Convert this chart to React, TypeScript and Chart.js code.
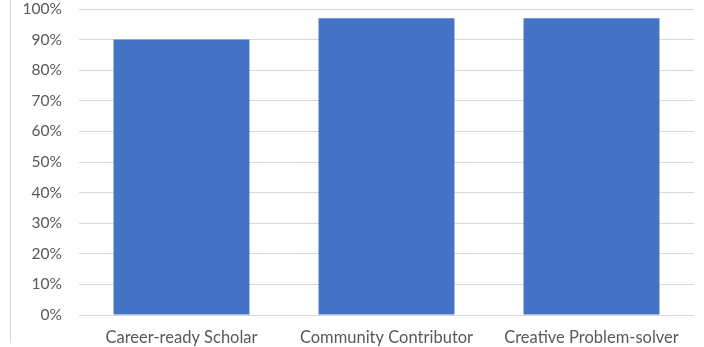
import React, { useEffect, useRef } from "react";
import { Chart, registerables } from "chart.js";

Chart.register(...registerables);

const categories = ["Career-ready Scholar", "Community Contributor", "Creative Problem-solver"];
const values = [90, 97, 97];
const tickStep = 10;
const yMax = 100;

const framePlugin = {
  id: "frameLine",
  beforeDraw(chart: any) {
    const ctx = chart.ctx;
    ctx.save();
    ctx.strokeStyle = "#D9D9D9";
    ctx.lineWidth = 1;
    ctx.beginPath();
    ctx.moveTo(10.5, 0);
    ctx.lineTo(10.5, 343);
    ctx.stroke();
    ctx.restore();
  },
};

export default function App() {
  const ref = useRef<HTMLCanvasElement | null>(null);
  useEffect(() => {
    document.body.style.margin = "0";
    const chart = new Chart(ref.current as HTMLCanvasElement, {
      type: "bar",
      data: {
        labels: categories,
        datasets: [
          {
            data: values,
            backgroundColor: "#4472C4",
            categoryPercentage: 1,
            barPercentage: 0.663,
          },
        ],
      },
      options: {
        responsive: false,
        animation: false,
        layout: { padding: { left: 0, right: 10, top: 9, bottom: 0 } },
        plugins: { legend: { display: false }, tooltip: { enabled: false } },
        scales: {
          x: {
            grid: { display: false, drawTicks: false },
            border: { display: false },
            ticks: {
              color: "#595959",
              font: { family: "Lato", size: 16.5 },
              padding: 13,
              maxRotation: 0,
            },
            afterFit(scale: any) {
              scale.height = 32;
              scale.paddingLeft = 0;
              scale.paddingRight = 0;
            },
          },
          y: {
            min: 0,
            max: yMax,
            grid: { color: "#D9D9D9", lineWidth: 1, drawTicks: false },
            border: { display: false },
            ticks: {
              stepSize: tickStep,
              color: "#595959",
              font: { family: "Lato", size: 15.5 },
              padding: 17,
              callback: (v: any) => v + "%",
            },
            afterFit(scale: any) {
              scale.width = 79;
              scale.paddingTop = 0;
              scale.paddingBottom = 0;
            },
          },
        },
      },
      plugins: [framePlugin],
    });
    return () => chart.destroy();
  }, []);
  return (
    <div style={{ width: 704, height: 347 }}>
      <canvas ref={ref} width={704} height={347} />
    </div>
  );
}
